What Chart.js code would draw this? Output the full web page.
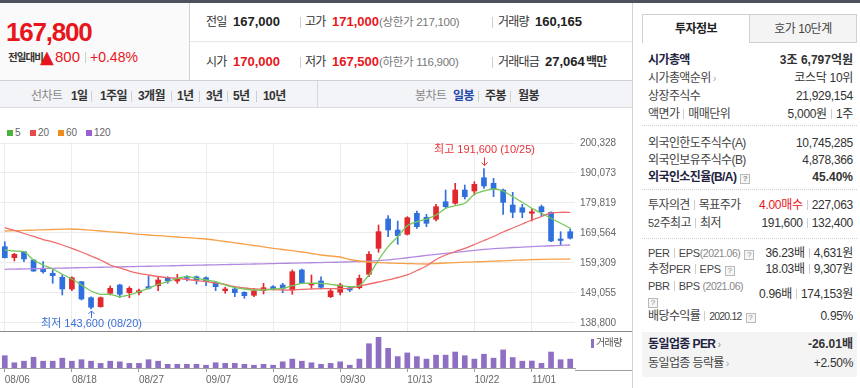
<!DOCTYPE html>
<html lang="ko">
<head>
<meta charset="utf-8">
<title>일봉 차트</title>
<script src="https://cdn.jsdelivr.net/npm/chart.js@4.4.0/dist/chart.umd.min.js"></script>
<style>
  * { box-sizing: border-box; margin: 0; padding: 0; }
  html, body { width: 860px; height: 388px; overflow: hidden; background: #fff; }
  body { position: relative; font-family: 'Liberation Sans', 'Noto Sans CJK KR', sans-serif; font-size: 12px; color: #333; }
  .t { position: absolute; white-space: nowrap; height: 16px; line-height: 16px; }
  .box { position: absolute; }
  .vs { position: absolute; width: 1px; height: 11px; background: #cfcfcf; }
  .lbl { color: #333; letter-spacing: -0.8px; }
  .val { font-weight: bold; font-size: 13px; color: #222; }
  .red { color: #e8161c; }
  .sub { color: #777; font-size: 11.5px; letter-spacing: -0.3px; }
  .tb { font-weight: bold; color: #333; letter-spacing: -0.6px; top: 88px; }
  .tg { color: #888; letter-spacing: -0.6px; top: 88px; }
  .tab { position: absolute; top: 14px; width: 108px; height: 29px; line-height: 28px; text-align: center; font-size: 12px; border: 1px solid #cfcfcf; letter-spacing: -0.5px; }
  .tab.on { background: #fff; border-bottom: none; font-weight: bold; color: #222; }
  .tab.off { background: #f4f4f4; color: #444; left: 749px; }
  .row { position: absolute; left: 648px; right: 7px; height: 17px; line-height: 17px; display: flex; justify-content: space-between; white-space: nowrap; }
  .row span:first-child, .row b:first-child { letter-spacing: -0.6px; color: #444; }
  .row b:first-child { color: #23233f; }
  .row b, .row span { color: #333; }
  .row span:last-child { letter-spacing: -0.3px; }
  .is { display: inline-block; width: 1px; height: 10px; background: #cdcdcd; margin: 0 4px; vertical-align: -1px; }
  .q { display: inline-block; width: 10px; height: 10px; border: 1px solid #b9b9b9; background: #f6f6f6; color: #888; font-size: 8px; line-height: 8px; text-align: center; font-style: normal; margin-left: 4px; vertical-align: 0px; letter-spacing: 0; }
  .ar { color: #aaa; font-style: normal; font-size: 11px; margin-left: 2px; }
  .gy { color: #888; font-style: normal; font-size: 10.5px; letter-spacing: -0.5px; }
  .sm { font-size: 11px; letter-spacing: -0.3px; font-style: normal; }
  .dot { position: absolute; left: 642px; width: 215px; height: 0; border-top: 1px dotted #cfcfcf; }
  .lg { position: absolute; top: 126px; height: 14px; line-height: 14px; font-size: 10px; color: #666; white-space: nowrap; }
  .lg i { display: inline-block; width: 6px; height: 6px; margin-right: 2px; vertical-align: 0px; }
  #price-wrap { position: absolute; left: 0; top: 108px; width: 632px; height: 224px; }
  #volume-wrap { position: absolute; left: 0; top: 332px; width: 632px; height: 56px; }
  .ln { position: absolute; z-index: 5; }
</style>
</head>
<body>

<!-- 상단 띠 -->
<div class="box" style="left:0;top:0;width:860px;height:3px;background:#4c525e"></div>

<!-- 현재가 -->
<div class="box" style="left:0;top:3px;width:190px;height:77px;background:#fafafa;border-right:1px solid #d3d3d3"></div>
<div class="t red" style="left:6px;top:16px;height:32px;line-height:32px;font-size:26px;font-weight:bold;letter-spacing:-1.2px">167,800</div>
<div class="t" style="left:8px;top:49px;font-size:10.5px;font-weight:bold;letter-spacing:-0.9px;color:#333">전일대비</div>
<div class="t red" style="left:40px;top:47px;height:20px;line-height:20px;font-size:18px;font-family:'DejaVu Sans'">▲</div>
<div class="t red" style="left:55px;top:49px;font-size:15px">800</div>
<div class="vs" style="left:85px;top:52px"></div>
<div class="t red" style="left:90px;top:49px;font-size:14px">+0.48%</div>

<!-- 시세 정보 -->
<div class="box" style="left:190px;top:41px;width:442px;height:1px;background:#e6e6e6"></div>
<div class="t lbl" style="left:206px;top:14px">전일</div>
<div class="t val" style="left:233px;top:14px">167,000</div>
<div class="vs" style="left:300px;top:17px"></div>
<div class="t lbl" style="left:305px;top:14px">고가</div>
<div class="t val red" style="left:332px;top:14px">171,000</div>
<div class="t sub" style="left:379px;top:14px">(상한가 217,100)</div>
<div class="vs" style="left:492px;top:17px"></div>
<div class="t lbl" style="left:498px;top:14px">거래량</div>
<div class="t val" style="left:535px;top:14px">160,165</div>

<div class="t lbl" style="left:206px;top:54px">시가</div>
<div class="t val red" style="left:233px;top:54px">170,000</div>
<div class="vs" style="left:300px;top:57px"></div>
<div class="t lbl" style="left:305px;top:54px">저가</div>
<div class="t val red" style="left:332px;top:54px">167,500</div>
<div class="t sub" style="left:379px;top:54px">(하한가 116,900)</div>
<div class="vs" style="left:492px;top:57px"></div>
<div class="t lbl" style="left:498px;top:54px">거래대금</div>
<div class="t val" style="left:545px;top:54px">27,064</div>
<div class="t" style="left:586px;top:54px;font-weight:bold;color:#333;letter-spacing:-0.8px">백만</div>

<!-- 차트 메뉴 -->
<div class="box" style="left:0;top:80px;width:632px;height:28px;background:#f3f4f7;border-top:1px solid #cfd1d6;border-bottom:1px solid #dcdde1"></div>
<div class="box" style="left:317px;top:81px;width:1px;height:26px;background:#d6d7db"></div>
<div class="t tg" style="left:31px">선차트</div>
<div class="t tb" style="left:71px">1일</div>
<div class="vs" style="left:91px;top:91px"></div>
<div class="t tb" style="left:100px">1주일</div>
<div class="vs" style="left:131px;top:91px"></div>
<div class="t tb" style="left:138px">3개월</div>
<div class="vs" style="left:171px;top:91px"></div>
<div class="t tb" style="left:177px">1년</div>
<div class="vs" style="left:199px;top:91px"></div>
<div class="t tb" style="left:206px">3년</div>
<div class="vs" style="left:227px;top:91px"></div>
<div class="t tb" style="left:233px">5년</div>
<div class="vs" style="left:256px;top:91px"></div>
<div class="t tb" style="left:263px">10년</div>
<div class="t tg" style="left:415px">봉차트</div>
<div class="t tb" style="left:453px;color:#2549a8">일봉</div>
<div class="vs" style="left:478px;top:91px"></div>
<div class="t tb" style="left:485px">주봉</div>
<div class="vs" style="left:510px;top:91px"></div>
<div class="t tb" style="left:518px">월봉</div>

<!-- 이동평균 범례 -->
<div class="lg" style="left:7px"><i style="background:#4cb140"></i>5</div>
<div class="lg" style="left:30px"><i style="background:#e84a4a"></i>20</div>
<div class="lg" style="left:58px"><i style="background:#f08b1e"></i>60</div>
<div class="lg" style="left:86px"><i style="background:#9a5fd0"></i>120</div>

<div id="price-wrap"><canvas id="chart-price"></canvas></div>
<div id="volume-wrap"><canvas id="chart-volume"></canvas></div>

<div class="ln" style="left:0;top:331px;width:632px;height:1px;background:#8c8c8c"></div>
<div class="ln" style="left:575px;top:370px;width:57px;height:1px;background:#a0a0a0"></div>
<div class="ln" style="left:591px;top:339px;width:3px;height:9px;background:#8f6fc4"></div>
<div class="t" style="left:596px;top:335px;font-size:10px;color:#555;letter-spacing:-0.6px;z-index:5">거래량</div>
<div class="ln" style="left:632px;top:3px;width:1px;height:385px;background:#d3d3d3"></div>

<!-- 투자정보 -->
<div class="tab on" style="left:642px">투자정보</div>
<div class="tab off">호가 10단계</div>

<div class="row" style="top:52px"><b>시가총액</b><b>3조 6,797억원</b></div>
<div class="row" style="top:70px"><span>시가총액순위<i class="ar">›</i></span><span>코스닥 10위</span></div>
<div class="row" style="top:88px"><span>상장주식수</span><span>21,929,154</span></div>
<div class="row" style="top:106px"><span>액면가<i class="is"></i>매매단위</span><span>5,000원<i class="is"></i>1주</span></div>
<div class="dot" style="top:125px"></div>
<div class="row" style="top:135px"><span>외국인한도주식수(A)</span><span>10,745,285</span></div>
<div class="row" style="top:152px"><span>외국인보유주식수(B)</span><span>4,878,366</span></div>
<div class="row" style="top:169px"><b>외국인소진율(B/A)<i class="q">?</i></b><b>45.40%</b></div>
<div class="dot" style="top:189px"></div>
<div class="row" style="top:197px"><span>투자의견<i class="is"></i>목표주가</span><span><em class="red" style="font-style:normal">4.00매수</em><i class="is"></i>227,063</span></div>
<div class="row" style="top:215px"><span><em class="sm">52</em>주최고<i class="is"></i>최저</span><span>191,600<i class="is"></i>132,400</span></div>
<div class="dot" style="top:238px"></div>
<div class="row" style="top:245px"><span><em class="sm">PER</em><i class="is"></i><em class="sm">EPS</em><em class="gy">(2021.06)</em><i class="q">?</i></span><span>36.23배<i class="is"></i>4,631원</span></div>
<div class="row" style="top:261px"><span>추정<em class="sm">PER</em><i class="is"></i><em class="sm">EPS</em><i class="q">?</i></span><span>18.03배<i class="is"></i>9,307원</span></div>
<div class="row" style="top:278px"><span><em class="sm">PBR</em><i class="is"></i><em class="sm">BPS</em> <em class="gy">(2021.06)</em></span><span></span></div>
<div class="row" style="top:286px"><span></span><span>0.96배<i class="is"></i>174,153원</span></div>
<div class="row" style="top:293px"><span><i class="q" style="margin-left:0">?</i></span><span></span></div>
<div class="row" style="top:308px"><span>배당수익률<i class="is"></i><em style="font-style:normal;font-size:10.5px;letter-spacing:-0.8px">2020.12</em><i class="q">?</i></span><span>0.95%</span></div>
<div class="box" style="left:642px;top:332px;width:215px;height:45px;background:#f4f4f4"></div>
<div class="row" style="top:336px"><b>동일업종 PER<i class="ar">›</i></b><b>-26.01배</b></div>
<div class="row" style="top:355px"><span>동일업종 등락률<i class="ar">›</i></span><span class="red">+2.50%</span></div>

<script>
/* ============================================================
   일봉 차트 — 캔들 + 이동평균선 + 거래량
   ============================================================ */

const dates = [
  '08/06', '08/09', '08/10', '08/11', '08/12', '08/13', '08/17', '08/18', '08/19', '08/20',
  '08/23', '08/24', '08/25', '08/26', '08/27', '08/30', '08/31', '09/01', '09/02', '09/03',
  '09/06', '09/07', '09/08', '09/09', '09/10', '09/13', '09/14', '09/15', '09/16', '09/17',
  '09/23', '09/24', '09/27', '09/28', '09/29', '09/30', '10/01', '10/05', '10/06', '10/07',
  '10/08', '10/12', '10/13', '10/14', '10/15', '10/18', '10/19', '10/20', '10/21', '10/22',
  '10/25', '10/26', '10/27', '10/28', '10/29', '11/01', '11/02', '11/03', '11/04', '11/05'
];
const tickDates = ['08/06', '08/18', '08/27', '09/07', '09/16', '09/30', '10/13', '10/22', '11/01'];
const priceTicks = [138800, 149055, 159309, 169564, 179819, 190073, 200328];

const opens = [
  164880, 161120, 163170, 160330, 157500, 155790, 154420, 150420, 152920, 147450,
  144370, 148950, 151790, 149160, 149160, 151210, 151550, 154280, 153160, 154620,
  154620, 154280, 152710, 149840, 150420, 149290, 148270, 149840, 151210, 151790,
  150080, 156920, 151790, 153160, 147790, 149290, 150870, 150870, 155450, 164330,
  174350, 170590, 169120, 176300, 174930, 174250, 180260, 179710, 184260, 183920,
  188460, 186550, 184260, 179130, 178210, 176300, 178550, 176640, 167510, 170000
];
const highs = [
  166590, 162620, 163300, 160570, 159750, 156920, 155210, 154620, 153030, 147700,
  147700, 151450, 152030, 151210, 150420, 154860, 154420, 154620, 155450, 154970,
  154860, 154620, 152920, 151000, 150870, 149500, 150660, 152370, 151550, 152370,
  156920, 157260, 155210, 154620, 150420, 152370, 151210, 155210, 163170, 172300,
  175480, 173660, 175130, 177080, 175950, 179370, 184260, 186550, 185970, 187100,
  191600, 188260, 184600, 183470, 179370, 177770, 179130, 176840, 170010, 171000
];
const lows = [
  161000, 160000, 159750, 156400, 155790, 152370, 148370, 149840, 146660, 143600,
  144200, 148370, 147450, 147450, 148370, 150420, 149840, 152370, 152370, 153160,
  152130, 151550, 149840, 148950, 147790, 147240, 147790, 148710, 150080, 149160,
  148610, 152200, 150660, 150420, 147450, 148370, 149500, 150420, 154620, 162970,
  168300, 165700, 168880, 171170, 171720, 173660, 178210, 179370, 181180, 182550,
  184840, 181970, 175950, 174790, 174790, 173660, 175130, 166590, 165220, 167500
];
const closes = [
  161120, 162280, 160680, 156570, 156330, 154970, 150420, 154280, 147000, 144170,
  147450, 150660, 148610, 150660, 149840, 150660, 153500, 153160, 154080, 154080,
  153500, 152920, 151210, 150420, 149160, 148130, 149840, 150870, 150420, 150660,
  156330, 152370, 152370, 151000, 149740, 151790, 150080, 154080, 162280, 170010,
  170590, 168640, 174790, 171720, 172880, 178550, 178550, 184260, 181970, 186210,
  185630, 184600, 180050, 176640, 176640, 176840, 176840, 166830, 167000, 167800
];

const ma5 = [
  163750, 163410, 163170, 160330, 158620, 157260, 155450, 153840, 151790, 149740,
  148610, 148610, 147790, 148370, 149500, 150660, 152030, 152920, 154080, 154620,
  154080, 153500, 152920, 151790, 150870, 150420, 150080, 150080, 150420, 150660,
  151550, 152370, 152370, 152370, 152030, 151550, 151210, 151550, 155210, 160330,
  164880, 168300, 172060, 173420, 174350, 175710, 178000, 178890, 179710, 182790,
  183920, 184600, 183920, 181970, 180060, 178000, 176300, 174590, 172880, 171170
];
const ma20 = [
  171370, 170420, 169390, 168370, 167340, 166490, 165460, 164330, 163070, 161700,
  160330, 158620, 157600, 156570, 155790, 155210, 154690, 154280, 154080, 153670,
  153330, 152920, 152470, 151960, 151210, 150760, 150420, 150320, 150180, 150080,
  150080, 150320, 150420, 150520, 150520, 150520, 150660, 151450, 152130, 152810,
  153500, 154350, 155210, 156740, 158280, 160500, 162040, 163240, 164330, 165630,
  167000, 168370, 169900, 171270, 172640, 174010, 175200, 176400, 176640, 176640
];
const ma60 = [
  170250, 170350, 170450, 170550, 170660, 170760, 170860, 170930, 170760, 170520,
  170250, 169970, 169730, 169430, 169120, 168880, 168670, 168430, 168190, 167990,
  167750, 167510, 167100, 166660, 166210, 165730, 165290, 164810, 164330, 163920,
  163510, 163070, 162560, 162040, 161700, 161360, 160500, 159990, 159650, 159410,
  159310, 159210, 159100, 159030, 158970, 159140, 159310, 159440, 159580, 159680,
  159790, 159920, 160060, 160200, 160330, 160470, 160540, 160610, 160640, 160680
];
const ma120 = [
  157150, 157220, 157290, 157360, 157430, 157500, 157570, 157640, 157710, 157780,
  157850, 157920, 157990, 158060, 158130, 158200, 158270, 158340, 158410, 158480,
  158550, 158620, 158690, 158760, 158830, 158900, 158970, 159040, 159110, 159180,
  159250, 159320, 159390, 159460, 159530, 159600, 159700, 159800, 159950, 160150,
  160400, 160750, 161100, 161500, 161900, 162250, 162600, 162950, 163300, 163650,
  163950, 164200, 164400, 164600, 164750, 164900, 165050, 165200, 165330, 165460
];

const volumes = [
  221000, 94000, 122000, 193000, 122000, 122000, 177000, 122000, 149000, 122000,
  83000, 122000, 111000, 83000, 83000, 149000, 122000, 66000, 66000, 66000,
  66000, 50000, 94000, 83000, 83000, 66000, 50000, 66000, 50000, 111000,
  160000, 122000, 94000, 66000, 83000, 111000, 50000, 160000, 436000, 551000,
  353000, 205000, 271000, 205000, 160000, 231000, 231000, 287000, 221000, 160000,
  248000, 177000, 325000, 188000, 122000, 125000, 83000, 287000, 149000, 160165
];

const UP_COLOR = '#e0282e';
const DOWN_COLOR = '#2f6fde';
const GRID = '#ececec';

let priceChart, volumeChart;

Chart.defaults.font.family = '"Liberation Sans", "Noto Sans CJK KR", sans-serif';

function candleColor(i) {
  return closes[i] >= opens[i] ? UP_COLOR : DOWN_COLOR;
}

function fmt(v) {
  return Number(v).toLocaleString('en-US');
}

function isTickDate(i) {
  return tickDates.includes(dates[i]);
}

function drawArrow(ctx, x, from, to) {
  const dir = to > from ? 1 : -1;
  ctx.beginPath();
  ctx.moveTo(x, from);
  ctx.lineTo(x, to);
  ctx.moveTo(x - 3, to - dir * 3);
  ctx.lineTo(x, to);
  ctx.lineTo(x + 3, to - dir * 3);
  ctx.stroke();
}

// 최고/최저 표시
const hiLoMarker = {
  id: 'hiLoMarker',
  afterDatasetsDraw(chart) {
    const { ctx, scales: { x, y } } = chart;
    const hiIdx = highs.indexOf(Math.max(...highs));
    const loIdx = lows.indexOf(Math.min(...lows));

    ctx.save();
    ctx.font = '11px "Liberation Sans", "Noto Sans CJK KR"';
    ctx.textAlign = 'center';
    ctx.textBaseline = 'middle';
    ctx.lineWidth = 1;

    let px = Math.round(x.getPixelForValue(hiIdx)) + 0.5;
    let py = y.getPixelForValue(highs[hiIdx]);
    ctx.fillStyle = ctx.strokeStyle = '#e8323a';
    ctx.fillText('최고 ' + fmt(highs[hiIdx]) + ' (' + dates[hiIdx] + ')', px, py - 18.5);
    drawArrow(ctx, px, py - 11, py - 3);

    px = Math.round(x.getPixelForValue(loIdx)) + 0.5;
    py = y.getPixelForValue(lows[loIdx]);
    ctx.fillStyle = ctx.strokeStyle = '#3a6fd8';
    ctx.fillText('최저 ' + fmt(lows[loIdx]) + ' (' + dates[loIdx] + ')', px, py + 15.5);
    drawArrow(ctx, px, py + 9, py + 2);
    ctx.restore();
  }
};

function maLine(label, data, color) {
  return {
    type: 'line',
    label: label,
    data: data,
    borderColor: color,
    borderWidth: 1.3,
    pointRadius: 0,
    tension: 0.25,
    fill: false,
    order: 0
  };
}

function initPriceChart() {
  const ctx = document.getElementById('chart-price');
  if (!ctx) return;

  priceChart = new Chart(ctx, {
    type: 'bar',
    data: {
      labels: dates,
      datasets: [
        maLine('5', ma5, '#74c858'),
        maLine('20', ma20, '#f06a6a'),
        maLine('60', ma60, '#f6a148'),
        maLine('120', ma120, '#b389df'),
        {
          label: '시가/종가',
          data: opens.map((o, i) => [o, closes[i]]),
          backgroundColor: (c) => candleColor(c.dataIndex),
          barThickness: 5,
          minBarLength: 1,
          grouped: false,
          order: 1
        },
        {
          label: '고가/저가',
          data: lows.map((l, i) => [l, highs[i]]),
          backgroundColor: (c) => candleColor(c.dataIndex),
          barThickness: 1,
          grouped: false,
          order: 2
        }
      ]
    },
    options: {
      responsive: true,
      maintainAspectRatio: false,
      animation: false,
      layout: { padding: { top: 34, left: 0, right: 0, bottom: 0 } },
      plugins: {
        legend: { display: false },
        tooltip: { enabled: false }
      },
      scales: {
        x: {
          offset: true,
          grid: {
            offset: false,
            drawTicks: false,
            color: (c) => isTickDate(c.index) ? GRID : 'rgba(0,0,0,0)'
          },
          border: { display: false },
          ticks: { display: false, autoSkip: false }
        },
        y: {
          position: 'right',
          min: 135720,
          max: 200670,
          afterBuildTicks: (s) => { s.ticks = priceTicks.map(v => ({ value: v })); },
          afterFit: (s) => { s.width = 57; s.paddingTop = 0; s.paddingBottom = 0; },
          grid: { color: GRID, drawTicks: false },
          border: { display: false },
          ticks: {
            color: '#666',
            padding: 5,
            font: { size: 10 },
            callback: (v) => fmt(v)
          }
        }
      }
    },
    plugins: [hiLoMarker]
  });
}

function initVolumeChart() {
  const ctx = document.getElementById('chart-volume');
  if (!ctx) return;

  volumeChart = new Chart(ctx, {
    type: 'bar',
    data: {
      labels: dates,
      datasets: [{
        label: '거래량',
        data: volumes,
        backgroundColor: '#8f6fc4',
        barThickness: 5
      }]
    },
    options: {
      responsive: true,
      maintainAspectRatio: false,
      animation: false,
      layout: { padding: { top: 4, left: 0, right: 0, bottom: 0 } },
      plugins: {
        legend: { display: false },
        tooltip: { enabled: false }
      },
      scales: {
        x: {
          offset: true,
          grid: {
            offset: false,
            drawOnChartArea: false,
            drawTicks: true,
            tickLength: 4,
            color: (c) => isTickDate(c.index) ? '#999' : 'rgba(0,0,0,0)'
          },
          border: { display: true, color: '#a0a0a0' },
          ticks: {
            autoSkip: false,
            maxRotation: 0,
            align: 'start',
            padding: 2,
            color: '#666',
            font: { size: 10 },
            callback: (v, i) => isTickDate(i) ? dates[i] : ''
          }
        },
        y: {
          position: 'right',
          min: 0,
          max: 575000,
          afterFit: (s) => { s.width = 57; },
          grid: { display: false },
          border: { display: false },
          ticks: { display: false }
        }
      }
    }
  });
}

function initAllCharts() {
  initPriceChart();
  initVolumeChart();
}

initAllCharts();
</script>
</body>
</html>
